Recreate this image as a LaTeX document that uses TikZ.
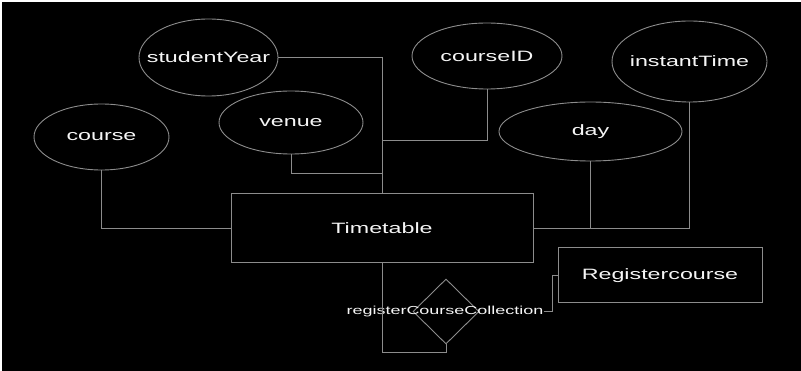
\documentclass[tikz,border=0pt]{standalone}
\usepackage{fontspec}
\newfontfamily\wfont[FakeStretch=1.55]{Liberation Sans}
\usetikzlibrary{shapes.geometric}
\definecolor{linegray}{RGB}{140,140,140}
\definecolor{txtwhite}{RGB}{245,245,245}
\tikzset{
  attr/.style={ellipse, draw=linegray, line width=0.9pt, inner sep=0pt, minimum width=#1},
  wtext/.style={text=txtwhite, font=\wfont\fontsize{15}{18}\selectfont, inner sep=0pt},
  smalltext/.style={text=txtwhite, font=\wfont\fontsize{11.6}{14}\selectfont, inner sep=0pt},
  entity/.style={rectangle, draw=linegray, line width=1pt, inner sep=0pt},
  conn/.style={draw=linegray, line width=1pt},
  rel/.style={diamond, draw=linegray, line width=0.9pt, inner sep=0pt, minimum width=66pt, minimum height=65pt}
}
\begin{document}
\begin{tikzpicture}[x=1pt,y=-1pt]
\fill[white] (0,0) rectangle (801,371);
\fill[black] (2,2) rectangle (801,371);
\useasboundingbox (0,0) rectangle (801,371);

% attributes
\node[attr=139pt, minimum height=77pt, label={[wtext]center:studentYear}] (sy) at (208.5,57.5) {};
\node[attr=135pt, minimum height=66pt, label={[wtext]center:course}] (co) at (101.5,137) {};
\node[attr=144pt, minimum height=63pt, label={[wtext]center:venue}] (ve) at (291,122.5) {};
\node[attr=150pt, minimum height=66pt, label={[wtext]center:courseID}] (cid) at (487,56) {};
\node[attr=155pt, minimum height=81pt, label={[wtext]center:instantTime}] (it) at (689.5,61.5) {};
\node[attr=183pt, minimum height=59pt, label={[wtext]center:day}] (day) at (590.5,131.5) {};

% entities
\node[entity, minimum width=302pt, minimum height=69pt, wtext] (tt) at (382,228.5) {Timetable};
\node[entity, minimum width=204pt, minimum height=55pt, wtext] (rc) at (660,275.5) {Registercourse};

% relationship
\node[rel] (dia) at (446,311.5) {};
\node[smalltext] (rlab) at (445,311.5) {registerCourseCollection};

% junction points
\coordinate (j1) at (382,174);
\coordinate (j2) at (382,141);
\coordinate (j3) at (382,353);
\coordinate (j4) at (552,311.5);

% connectors
\draw[conn] (sy.east) -| (tt.north);
\draw[conn] (ve.south) |- (j1);
\draw[conn] (cid.south) |- (j2);
\draw[conn] (co.south) |- (tt.west);
\draw[conn] (day.south) |- (tt.east);
\draw[conn] (it.south) |- (tt.east);
\draw[conn] (tt.south) -- (j3) -| (dia.south);
\draw[conn] (rlab.east) -- (j4) |- (rc.west);
\end{tikzpicture}
\end{document}
